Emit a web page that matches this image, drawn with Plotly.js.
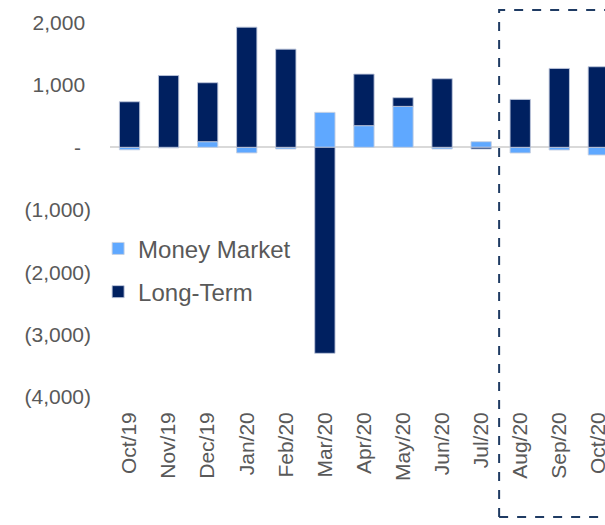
<!DOCTYPE html>
<html>
<head>
<meta charset="utf-8">
<script src="https://cdn.plot.ly/plotly-3.0.1.min.js"></script>
<style>html,body{margin:0;padding:0;background:#fff;}#chart{width:605px;height:525px;}</style>
</head>
<body>
<div id="chart"></div>
<script>
var months = ["Oct/19","Nov/19","Dec/19","Jan/20","Feb/20","Mar/20","Apr/20","May/20","Jun/20","Jul/20","Aug/20","Sep/20","Oct/20"];
var moneyMarket = [-40, -10, 90, -90, -27, 560, 347, 656, -27, 90, -91, -43, -123];
var longTerm = [730, 1150, 945, 1925, 1573, -3300, 826, 139, 1099, -27, 768, 1264, 1291];
var yTickVals = [2000, 1000, 0, -1000, -2000, -3000, -4000];
var yTickText = ["2,000\u00A0", "1,000\u00A0", "-\u00A0\u2009", "(1,000)", "(2,000)", "(3,000)", "(4,000)"];

var xRange = [-0.5, 12.17];
var boxStart = 9.46;
var fnt = {family: "Liberation Sans, Arial, sans-serif", size: 21, color: "#595959"};
var legFnt = {family: "Liberation Sans, Arial, sans-serif", size: 24, color: "#595959"};

var traces = [
  {type: "bar", name: "Money Market", x: months, y: moneyMarket, width: 0.52,
   legendgroup: "mm",
   marker: {color: "#5FA8FF", line: {color: "rgba(200,208,225,0.9)", width: 1}}},
  {type: "bar", name: "Long-Term", x: months, y: longTerm, width: 0.52,
   legendgroup: "lt",
   marker: {color: "#002060", line: {color: "rgba(190,198,220,0.9)", width: 1}}}
];

var layout = {
  width: 605, height: 525,
  margin: {l: 110, r: 0, t: 9.5, b: 128, pad: 0},
  paper_bgcolor: "#fff", plot_bgcolor: "#fff",
  barmode: "relative",
  font: fnt,
  showlegend: true,
  legend: {x: -0.024, y: 0.441, xanchor: "left", yanchor: "top", traceorder: "grouped",
           tracegroupgap: 9, font: legFnt, bgcolor: "rgba(0,0,0,0)"},
  xaxis: {type: "category", range: xRange, tickangle: -90, showgrid: false, showline: false,
          ticks: "", ticklabelstandoff: 10, tickfont: fnt, fixedrange: true},
  yaxis: {range: [-4000, 2200], tickvals: yTickVals, ticktext: yTickText, showgrid: false,
          showline: false, zeroline: true, zerolinecolor: "#d9d9d9", zerolinewidth: 2,
          ticks: "", ticklabelstandoff: 18, tickfont: fnt, fixedrange: true},
  shapes: [
    {type: "path", xref: "paper", yref: "paper",
     path: "M" + ((boxStart - xRange[0]) / (xRange[1] - xRange[0])) + ",-0.31 L" +
           ((boxStart - xRange[0]) / (xRange[1] - xRange[0])) + ",1.0 L1.1,1.0",
     line: {color: "#1F3B63", width: 2, dash: "dash"}},
    {type: "line", xref: "paper", yref: "paper",
     x0: (boxStart - xRange[0]) / (xRange[1] - xRange[0]), x1: 1.1, y0: -0.31, y1: -0.31,
     line: {color: "#1F3B63", width: 2, dash: "dash"}}
  ]
};

Plotly.newPlot("chart", traces, layout, {displayModeBar: false, staticPlot: true});
</script>
</body>
</html>
